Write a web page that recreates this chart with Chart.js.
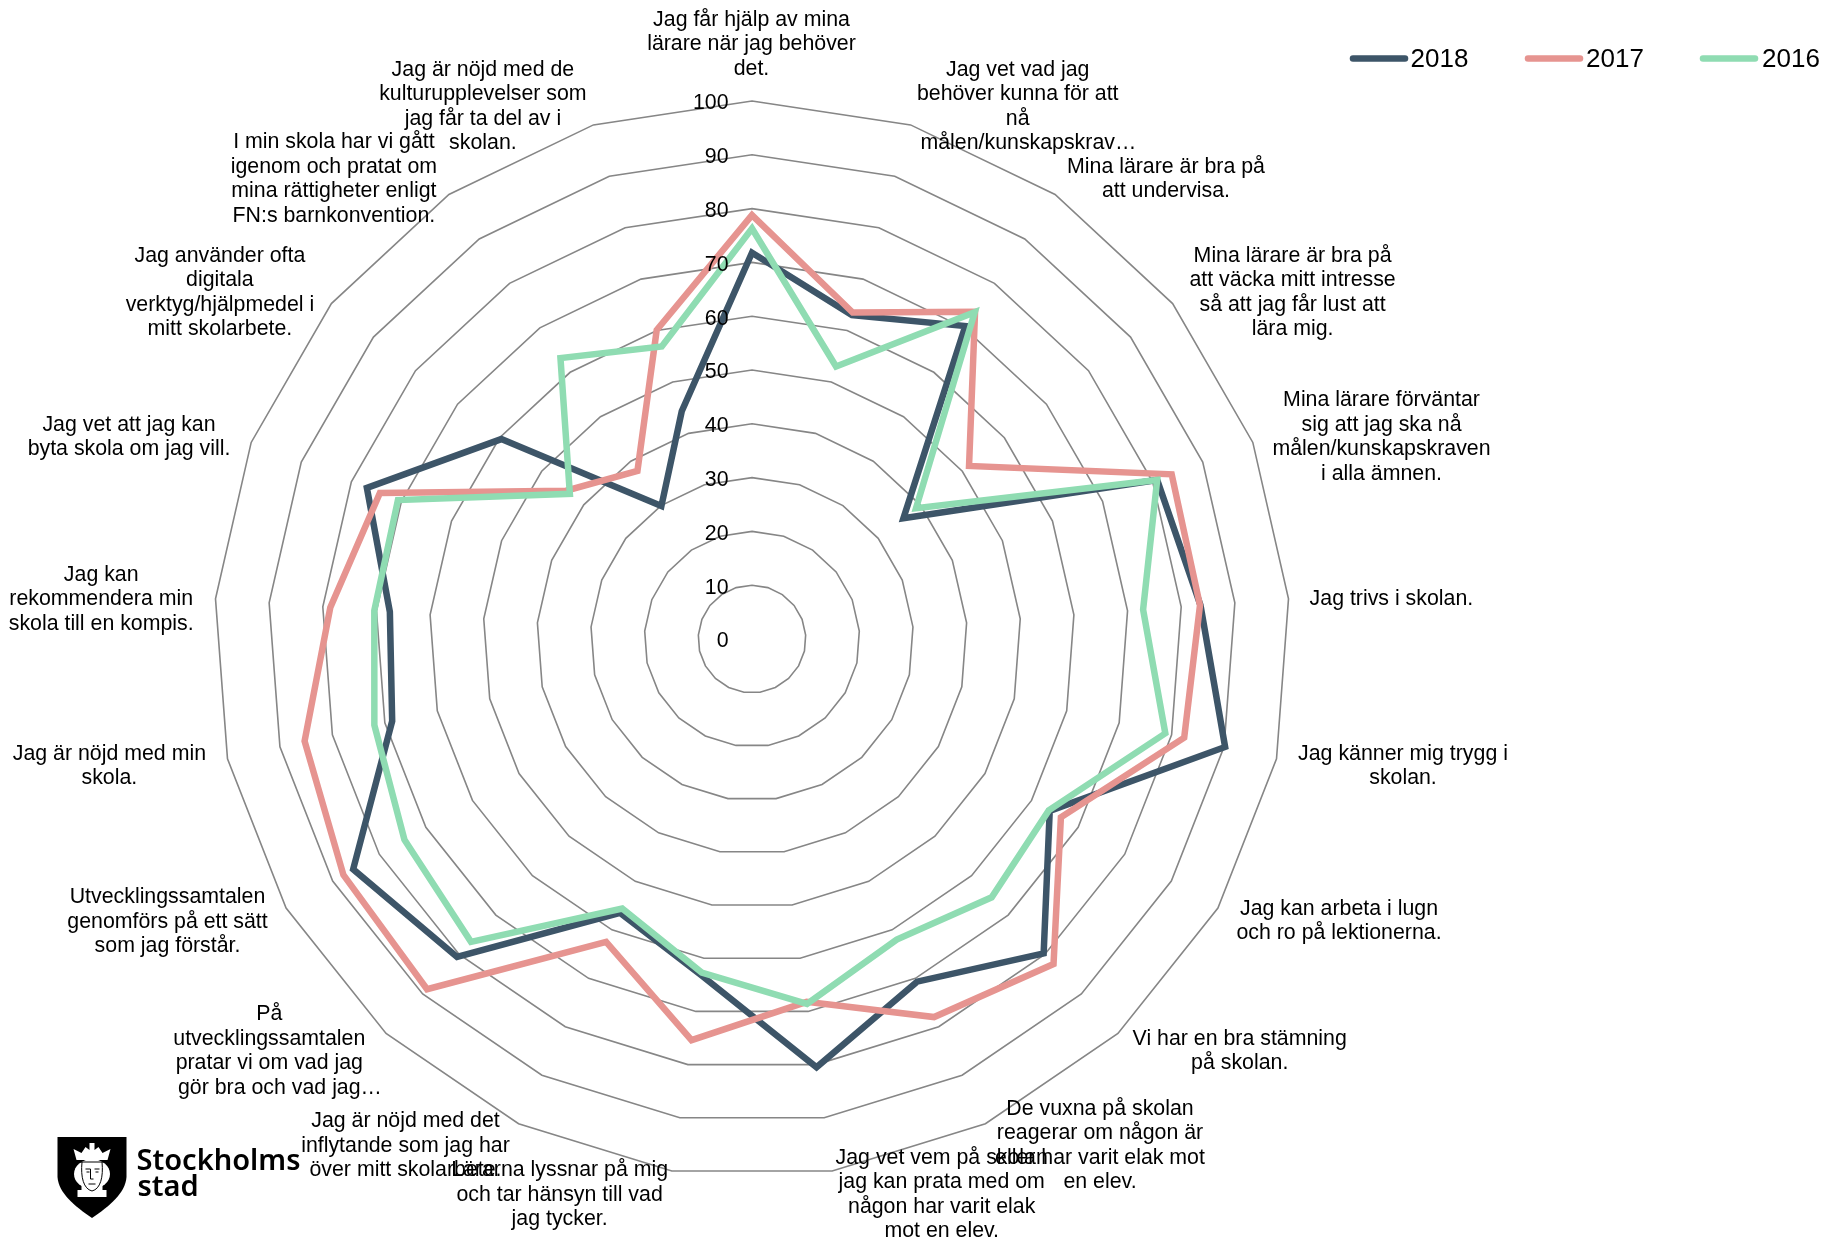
<!DOCTYPE html>
<html lang="sv">
<head>
<meta charset="utf-8">
<title>Elevenkät</title>
<script src="https://cdn.jsdelivr.net/npm/chart.js@4/dist/chart.umd.min.js"></script>
<style>
  html, body { margin: 0; padding: 0; background: #fff; }
  canvas { display: block; }
</style>
</head>
<body>
<canvas id="radar" width="1823" height="1238"></canvas>
<script>
const categories = [
  ["Jag får hjälp av mina", "lärare när jag behöver", "det."],
  ["Jag vet vad jag", "behöver kunna för att", "nå", "målen/kunskapskrav…"],
  ["Mina lärare är bra på", "att undervisa."],
  ["Mina lärare är bra på", "att väcka mitt intresse", "så att jag får lust att", "lära mig."],
  ["Mina lärare förväntar", "sig att jag ska nå", "målen/kunskapskraven", "i alla ämnen."],
  ["Jag trivs i skolan."],
  ["Jag känner mig trygg i", "skolan."],
  ["Jag kan arbeta i lugn", "och ro på lektionerna."],
  ["Vi har en bra stämning", "på skolan."],
  ["De vuxna på skolan", "reagerar om någon är", "eller har varit elak mot", "en elev."],
  ["Jag vet vem på skolan", "jag kan prata med om", "någon har varit elak", "mot en elev."],
  ["Lärarna lyssnar på mig", "och tar hänsyn till vad", "jag tycker."],
  ["Jag är nöjd med det", "inflytande som jag har", "över mitt skolarbete."],
  ["På", "utvecklingssamtalen", "pratar vi om vad jag", "gör bra och vad jag…"],
  ["Utvecklingssamtalen", "genomförs på ett sätt", "som jag förstår."],
  ["Jag är nöjd med min", "skola."],
  ["Jag kan", "rekommendera min", "skola till en kompis."],
  ["Jag vet att jag kan", "byta skola om jag vill."],
  ["Jag använder ofta", "digitala", "verktyg/hjälpmedel i", "mitt skolarbete."],
  ["I min skola har vi gått", "igenom och pratat om", "mina rättigheter enligt", "FN:s barnkonvention."],
  ["Jag är nöjd med de", "kulturupplevelser som", "jag får ta del av i", "skolan."]
];

const values2018 = [71.8, 63, 70.4, 36, 80.9, 83.6, 90.2, 63.9, 79.7, 70.7, 80.5, 63.2, 56.5, 80.6, 85.6, 68.6, 67.5, 76.9, 59.6, 29.9, 44.3];
const values2017 = [78.8, 63.5, 73.6, 51.6, 83.8, 83.5, 82.4, 66.3, 82.4, 78, 68.2, 75.4, 62.5, 88.8, 87.7, 85.3, 78.6, 74.3, 44.2, 37.8, 60.1];
const values2016 = [76.3, 53, 73.5, 39, 80.9, 72.9, 78.8, 63.7, 65.5, 62, 68.6, 62.7, 55.6, 76.8, 74.6, 72, 70.4, 70.7, 43.3, 63.2, 56.9];

// where excel left each label: centre x, y of first line
const labelSpots = [
  [751.5, 20], [1017.7, 70], [1166, 167], [1292.6, 256], [1381.5, 400.5], [1391.4, 599], [1403, 754],
  [1339, 909], [1239.7, 1039], [1100, 1109], [941.7, 1158], [559.6, 1170.5], [405.5, 1121.5],
  [269.3, 1014.5], [167.5, 897.5], [109.4, 754], [101.2, 575], [129, 425], [219.9, 256], [333.9, 142.5], [482.9, 70]
];
const lineGap = 24.5;
const textFont = '21.33px "Liberation Sans", Arial, sans-serif';

// legend entries: line start, line end, text start
const legendSpots = [[1353, 1405, 1410.5], [1528, 1580, 1586], [1703, 1755, 1762]];

const drawLabels = {
  id: "drawLabels",
  afterDraw(chart) {
    const { ctx, scales, data } = chart;
    const r = scales.r;
    ctx.save();
    ctx.fillStyle = "#000";
    ctx.font = textFont;
    ctx.textBaseline = "middle";

    // radial tick labels sit left of the centre line
    ctx.textAlign = "right";
    r.ticks.forEach((t) => {
      const d = r.getDistanceFromCenterForValue(t.value);
      ctx.fillText(String(t.value), r.xCenter - 23.5, r.yCenter - d + 2.5);
    });

    // category labels, the trailing ellipsis hangs outside the centring
    ctx.textAlign = "left";
    data.labels.forEach((lines, i) => {
      const [cx, y0] = labelSpots[i];
      lines.forEach((line, k) => {
        const w = ctx.measureText(line.replace("…", "")).width;
        ctx.fillText(line, cx - w / 2, y0 + k * lineGap);
      });
    });

    // legend
    ctx.font = '26px "Liberation Sans", Arial, sans-serif';
    data.datasets.forEach((ds, i) => {
      const [x0, x1, tx] = legendSpots[i];
      ctx.beginPath();
      ctx.moveTo(x0, 58.5);
      ctx.lineTo(x1, 58.5);
      ctx.strokeStyle = ds.borderColor;
      ctx.lineWidth = 6.5;
      ctx.lineCap = "round";
      ctx.stroke();
      ctx.fillText(ds.label, tx, 60);
    });
    ctx.restore();
    drawLogo(ctx);
  }
};

function drawLogo(ctx) {
  ctx.save();
  ctx.translate(57.5, 1137);
  // shield
  ctx.fillStyle = "#000";
  ctx.beginPath();
  ctx.moveTo(0, 0);
  ctx.lineTo(69, 0);
  ctx.lineTo(69, 40);
  ctx.bezierCurveTo(68, 56, 52, 69, 34.5, 81);
  ctx.bezierCurveTo(17, 69, 1, 56, 0, 40);
  ctx.closePath();
  ctx.fill();
  // crown
  ctx.fillStyle = "#fff";
  ctx.beginPath();
  ctx.moveTo(19, 23);
  ctx.lineTo(16, 12);
  ctx.lineTo(24, 16);
  ctx.lineTo(28, 10);
  ctx.lineTo(32, 13);
  ctx.lineTo(32, 6);
  ctx.lineTo(37, 6);
  ctx.lineTo(37, 13);
  ctx.lineTo(41, 10);
  ctx.lineTo(45, 16);
  ctx.lineTo(53, 12);
  ctx.lineTo(50, 23);
  ctx.closePath();
  ctx.fill();
  // hair and neck
  ctx.beginPath();
  ctx.ellipse(34.5, 37, 18, 15, 0, 0, Math.PI * 2);
  ctx.fill();
  ctx.fillRect(24, 46, 21, 14);
  ctx.fillRect(20, 53, 29, 7);
  ctx.strokeStyle = "#000";
  ctx.lineWidth = 1;
  ctx.beginPath();
  ctx.moveTo(22, 25);
  ctx.lineTo(47, 25);
  ctx.moveTo(24.5, 25);
  ctx.bezierCurveTo(23, 40, 26, 52, 34.5, 54);
  ctx.bezierCurveTo(43, 52, 46, 40, 44.5, 25);
  // brows, nose, mouth
  ctx.moveTo(28, 32);
  ctx.lineTo(33, 32);
  ctx.lineTo(33, 42);
  ctx.lineTo(36, 42);
  ctx.moveTo(37, 32);
  ctx.lineTo(42, 32);
  ctx.moveTo(29, 35);
  ctx.lineTo(32, 35);
  ctx.moveTo(38, 35);
  ctx.lineTo(41, 35);
  ctx.moveTo(31, 47);
  ctx.lineTo(38, 47);
  ctx.stroke();
  ctx.restore();

  ctx.save();
  ctx.fillStyle = "#000";
  ctx.textBaseline = "alphabetic";
  ctx.font = '600 29px "Noto Sans", sans-serif';
  ctx.fillText("Stockholms", 136.5, 1170);
  ctx.fillText("stad", 137.5, 1195.5);
  ctx.restore();
}

new Chart(document.getElementById("radar"), {
  type: "radar",
  data: {
    labels: categories,
    datasets: [
      { label: "2018", data: values2018, borderColor: "#3D5568", order: 3 },
      { label: "2017", data: values2017, borderColor: "#E69490", order: 2 },
      { label: "2016", data: values2016, borderColor: "#8FDCB2", order: 1 }
    ]
  },
  options: {
    responsive: false,
    devicePixelRatio: 1,
    animation: false,
    layout: { padding: { left: 0, right: 319, top: 101, bottom: 61 } },
    elements: {
      line: { borderWidth: 6.5, tension: 0, fill: false, borderJoinStyle: "miter" },
      point: { radius: 0, hoverRadius: 0 }
    },
    plugins: { legend: { display: false }, tooltip: { enabled: false } },
    scales: {
      r: {
        min: 0,
        max: 100,
        ticks: { stepSize: 10, display: false },
        pointLabels: { display: false },
        angleLines: { display: false },
        grid: { circular: false, color: "#868686", lineWidth: 1.6 }
      }
    }
  },
  plugins: [drawLabels]
});
</script>
</body>
</html>
